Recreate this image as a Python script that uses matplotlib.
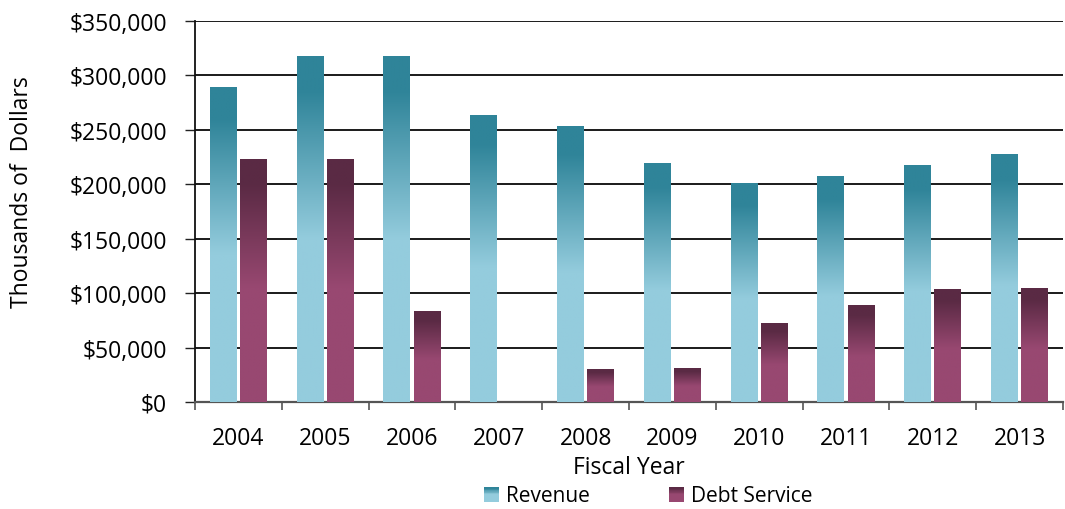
import matplotlib
matplotlib.use("Agg")
import matplotlib.pyplot as plt
import numpy as np
from matplotlib.colors import to_rgb
from matplotlib.legend_handler import HandlerBase
from matplotlib.patches import Rectangle
from matplotlib.ticker import FuncFormatter, MultipleLocator, FixedLocator

years = ["2004", "2005", "2006", "2007", "2008", "2009", "2010", "2011", "2012", "2013"]
revenue = [288500, 317000, 317000, 263000, 253500, 219500, 200300, 206700, 216800, 227800]
debt_service = [223200, 223200, 82700, 0, 30300, 31200, 71700, 89100, 103800, 104000]

REV_DARK, REV_LIGHT = "#2F8499", "#94CCDD"
DEBT_DARK, DEBT_LIGHT = "#5A2A44", "#984871"

plt.rcParams['font.family'] = ['Open Sans', 'DejaVu Sans']


def grad_colors(dark, light, n=200):
    d = np.array(to_rgb(dark))
    l = np.array(to_rgb(light))
    f = np.linspace(0, 1, n)  # fraction from top
    t = np.clip((f - 0.10) / (0.53 - 0.10), 0, 1)
    return d[None, :] * (1 - t[:, None]) + l[None, :] * t[:, None]


def gradient_bars(ax, bars, dark, light):
    cols = grad_colors(dark, light)
    img = cols[:, None, :]  # row 0 = top
    for b in bars:
        h = b.get_height()
        if h <= 0:
            continue
        x0 = b.get_x()
        w = b.get_width()
        ax.imshow(img, extent=(x0, x0 + w, 0, h), origin='upper',
                  aspect='auto', zorder=3, interpolation='bilinear')


class GradHandler(HandlerBase):
    def __init__(self, dark, light):
        super().__init__()
        self.dark = dark
        self.light = light

    def create_artists(self, legend, orig_handle, xdescent, ydescent,
                       width, height, fontsize, trans):
        n = 20
        cols = grad_colors(self.dark, self.light, n)
        size = height * 1.05
        x0 = -xdescent + (width - size)
        y0 = -ydescent + (height - size) / 2
        arts = []
        for i in range(n):
            r = Rectangle((x0, y0 + size - (i + 1) * size / n), size, size / n * 1.05,
                          facecolor=cols[i], edgecolor='none', transform=trans)
            arts.append(r)
        return arts


fig = plt.figure(figsize=(10.65, 5.10), dpi=100)
ax = fig.add_axes([195 / 1065, 107 / 510, 868 / 1065, 381 / 510])

x = np.arange(len(years))
w = 0.311
off = 0.173
b1 = ax.bar(x - off, revenue, w, facecolor='none', edgecolor='none', zorder=3)
b2 = ax.bar(x + off, debt_service, w, facecolor='none', edgecolor='none', zorder=3)
gradient_bars(ax, b1, REV_DARK, REV_LIGHT)
gradient_bars(ax, b2, DEBT_DARK, DEBT_LIGHT)

ax.set_xlim(-0.5, len(years) - 0.5)
ax.set_ylim(0, 350000)
ax.yaxis.set_major_locator(MultipleLocator(50000))
ax.yaxis.set_major_formatter(FuncFormatter(lambda v, p: f"${v:,.0f}"))
ax.grid(axis='y', color='#1a1a1a', linewidth=1.4, zorder=0)
ax.set_axisbelow(True)

ax.set_xticks(x)
ax.set_xticklabels(years)
ax.xaxis.set_minor_locator(FixedLocator(np.arange(-0.5, len(years) + 0.5, 1.0)))
ax.tick_params(axis='x', which='major', length=0, pad=17, labelsize=16.5)
ax.tick_params(axis='x', which='minor', length=6, width=1.2, color='#555555')
ax.tick_params(axis='y', which='major', length=7, width=1.0, pad=13, labelsize=16.5, color='#222222')

for s in ['top', 'right']:
    ax.spines[s].set_visible(False)
ax.spines['left'].set_color('#111111')
ax.spines['left'].set_linewidth(1.3)
ax.spines['bottom'].set_color('#555555')
ax.spines['bottom'].set_linewidth(1.6)

ax.set_xlabel("Fiscal Year", fontsize=16.5, labelpad=4)
ax.set_ylabel("Thousands of  Dollars", fontsize=16.5)
ax.yaxis.set_label_coords(-0.186, 0.554)

h1 = Rectangle((0, 0), 1, 1)
h2 = Rectangle((0, 0), 1, 1)
leg = fig.legend([h1, h2], ["Revenue", "Debt Service"],
                 handler_map={h1: GradHandler(REV_DARK, REV_LIGHT),
                              h2: GradHandler(DEBT_DARK, DEBT_LIGHT)},
                 loc='center', bbox_to_anchor=(648 / 1065, 1 - 497 / 510),
                 ncol=2, frameon=False, fontsize=15, handlelength=0.75,
                 handletextpad=0.3, columnspacing=3.8, borderpad=0)

fig.savefig("out.png", dpi=100)
